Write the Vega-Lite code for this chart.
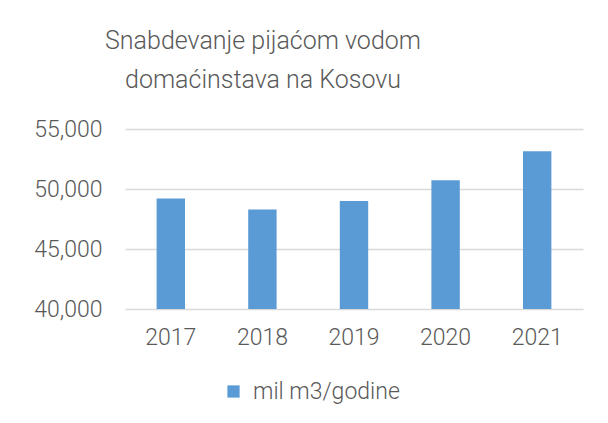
{
  "$schema": "https://vega.github.io/schema/vega-lite/v6.json",
  "autosize": "none",
  "width": 458,
  "height": 180,
  "padding": {"left": 125, "top": 129, "right": 25, "bottom": 114},
  "background": "white",
  "title": {
    "text": ["Snabdevanje pijaćom vodom", "domaćinstava na Kosovu"],
    "anchor": "middle",
    "dx": -91,
    "offset": 25,
    "font": "Roboto",
    "fontWeight": 300,
    "fontSize": 25,
    "lineHeight": 39,
    "color": "#595959"
  },
  "data": {
    "values": [
      {"year": "2017", "value": 49200, "series": "mil m3/godine"},
      {"year": "2018", "value": 48300, "series": "mil m3/godine"},
      {"year": "2019", "value": 49000, "series": "mil m3/godine"},
      {"year": "2020", "value": 50730, "series": "mil m3/godine"},
      {"year": "2021", "value": 53150, "series": "mil m3/godine"}
    ]
  },
  "mark": {"type": "bar"},
  "encoding": {
    "x": {
      "field": "year",
      "type": "ordinal",
      "scale": {"paddingInner": 0.69, "paddingOuter": 0.345},
      "axis": {
        "title": null,
        "labelAngle": 0,
        "ticks": false,
        "domain": false,
        "labelPadding": 17,
        "labelFont": "Roboto",
        "labelFontWeight": 300,
        "labelFontSize": 23,
        "labelColor": "#595959"
      }
    },
    "y": {
      "field": "value",
      "type": "quantitative",
      "scale": {"domain": [40000, 55000], "nice": false, "zero": false},
      "axis": {
        "title": null,
        "values": [40000, 45000, 50000, 55000],
        "format": ",d",
        "ticks": false,
        "domain": false,
        "labelPadding": 23,
        "labelFont": "Roboto",
        "labelFontWeight": 300,
        "labelFontSize": 23,
        "labelColor": "#595959",
        "grid": true,
        "gridColor": "#d9d9d9",
        "gridWidth": 1.5
      }
    },
    "y2": {"datum": 40000},
    "color": {
      "field": "series",
      "type": "nominal",
      "scale": {"range": ["#5b9bd5"]},
      "legend": {
        "title": null,
        "orient": "none",
        "legendX": 97,
        "legendY": 251,
        "symbolType": "square",
        "symbolSize": 150,
        "symbolStrokeWidth": 0,
        "labelFont": "Roboto",
        "labelFontWeight": 300,
        "labelFontSize": 23,
        "labelColor": "#595959",
        "labelOffset": 8
      }
    }
  },
  "config": {"view": {"stroke": null}}
}
